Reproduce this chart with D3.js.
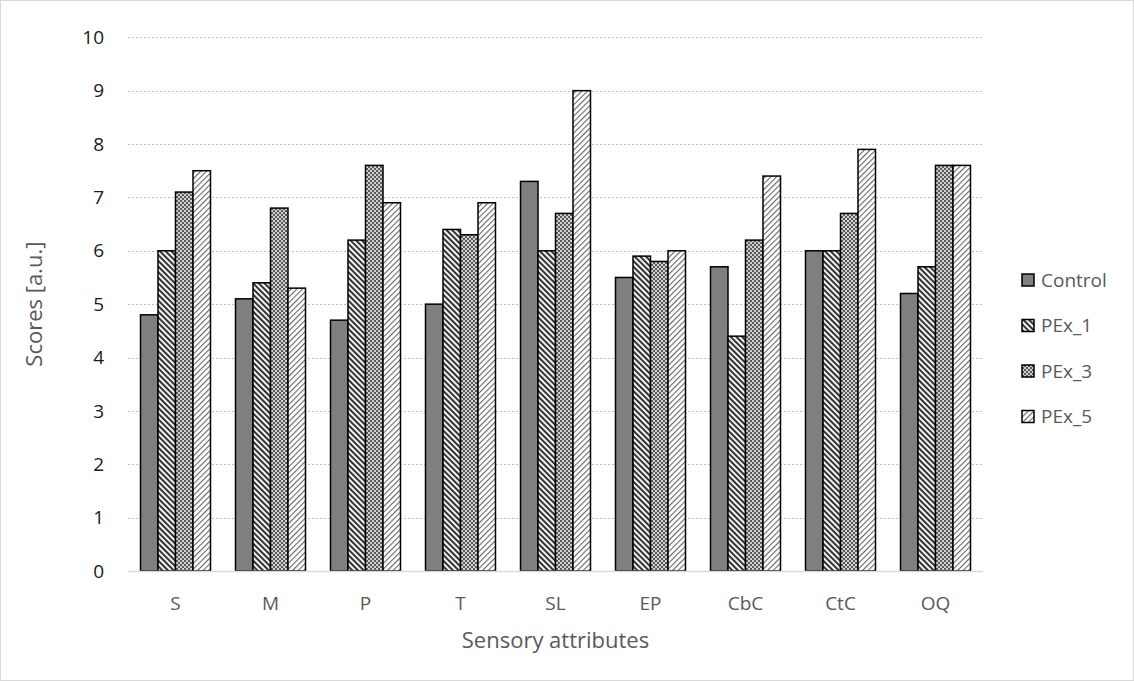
<!DOCTYPE html>
<html><head><meta charset="utf-8">
<script src="https://cdn.jsdelivr.net/npm/d3@7"></script>
<style>body{margin:0;background:#fff;}svg{display:block;font-family:"Open Sans",sans-serif;}</style>
</head><body>
<svg id="c" width="1134" height="681"></svg>
<script>
const categories = ["S","M","P","T","SL","EP","CbC","CtC","OQ"];
const seriesNames = ["Control","PEx_1","PEx_3","PEx_5"];
const control = [4.8,5.1,4.7,5.0,7.3,5.5,5.7,6.0,5.2];
const pex1 = [6.0,5.4,6.2,6.4,6.0,5.9,4.4,6.0,5.7];
const pex3 = [7.1,6.8,7.6,6.3,6.7,5.8,6.2,6.7,7.6];
const pex5 = [7.5,5.3,6.9,6.9,9.0,6.0,7.4,7.9,7.6];
const yTicks = [0,1,2,3,4,5,6,7,8,9,10];

const seriesValues = [control, pex1, pex3, pex5];
const svg = d3.select("#c");
const W = 1134, H = 681;
const m = {left:128, right:151, top:37.3, bottom:110};

svg.append("rect").attr("x",0.5).attr("y",0.5).attr("width",W-1).attr("height",H-1)
  .attr("fill","#fff").attr("stroke","#d9d9d9");

const defs = svg.append("defs");
// PEx_1: wide downward diagonal
const p1 = defs.append("pattern").attr("id","p1").attr("patternUnits","userSpaceOnUse")
  .attr("width",4).attr("height",4).attr("patternTransform","rotate(-45)");
p1.append("rect").attr("width",4).attr("height",4).attr("fill","#f2f2f2");
p1.append("rect").attr("width",1.9).attr("height",4).attr("fill","#2a2a2a");
// PEx_3: small checker
const p3 = defs.append("pattern").attr("id","p3").attr("patternUnits","userSpaceOnUse")
  .attr("width",4).attr("height",4);
p3.append("rect").attr("width",4).attr("height",4).attr("fill","#d0d0d0");
p3.append("rect").attr("width",2).attr("height",2).attr("fill","#5a5a5a");
p3.append("rect").attr("x",2).attr("y",2).attr("width",2).attr("height",2).attr("fill","#5a5a5a");
// PEx_5: light upward diagonal
const p5 = defs.append("pattern").attr("id","p5").attr("patternUnits","userSpaceOnUse")
  .attr("width",4).attr("height",4).attr("patternTransform","rotate(45)");
p5.append("rect").attr("width",4).attr("height",4).attr("fill","#fff");
p5.append("rect").attr("width",1.1).attr("height",4).attr("fill","#666");

const fills = ["#7f7f7f","url(#p1)","url(#p3)","url(#p5)"];

const x = d3.scaleBand().domain(categories).range([m.left, W-m.right]).paddingInner(0).paddingOuter(0);
const bandPad = 0.1316;
const xs = d3.scaleBand().domain(seriesNames)
  .range([x.bandwidth()*bandPad, x.bandwidth()*(1-bandPad)]);
const y = d3.scaleLinear().domain([0,10]).range([H-m.bottom, m.top]);

// grid
svg.append("g").selectAll("line").data(yTicks.filter(d=>d>0)).join("line")
  .attr("x1",m.left).attr("x2",W-m.right)
  .attr("y1",d=>Math.round(y(d))+0.5).attr("y2",d=>Math.round(y(d))+0.5)
  .attr("stroke","#bfbfbf").attr("stroke-width",1).attr("stroke-dasharray","2,2");

// y labels
svg.append("g").selectAll("text").data(yTicks).join("text")
  .attr("x",104).attr("y",d=>y(d)).attr("dy","0.35em").attr("text-anchor","end")
  .attr("font-size",19).attr("fill","#1a1a1a").text(d=>d);

// bars
const groups = svg.append("g").selectAll("g").data(categories).join("g")
  .attr("transform",d=>`translate(${x(d)},0)`);
groups.selectAll("rect").data((c,i)=>seriesNames.map((s,j)=>({s,j,v:seriesValues[j][i]})))
  .join("rect")
  .attr("x",d=>xs(d.s)).attr("width",xs.bandwidth())
  .attr("y",d=>y(d.v)).attr("height",d=>y(0)-y(d.v))
  .attr("fill",d=>fills[d.j]).attr("stroke","#000").attr("stroke-width",1.5);

// baseline
svg.append("line").attr("x1",m.left).attr("x2",W-m.right)
  .attr("y1",y(0)+0.5).attr("y2",y(0)+0.5).attr("stroke","#d9d9d9").attr("stroke-width",1.5);

// x labels
svg.append("g").selectAll("text").data(categories).join("text")
  .attr("x",d=>x(d)+x.bandwidth()/2).attr("y",603).attr("dy","0.35em")
  .attr("text-anchor","middle").attr("font-size",19).attr("fill","#595959").text(d=>d);

// axis titles
svg.append("text").attr("x",(m.left+W-m.right)/2).attr("y",640).attr("dy","0.35em")
  .attr("text-anchor","middle").attr("font-size",22).attr("fill","#595959").text("Sensory attributes");
svg.append("text").attr("transform",`translate(34,${(m.top+H-m.bottom)/2}) rotate(-90)`)
  .attr("dy","0.35em").attr("text-anchor","middle").attr("font-size",22).attr("fill","#595959")
  .text("Scores [a.u.]");

// legend
const lg = svg.append("g").selectAll("g").data(seriesNames).join("g")
  .attr("transform",(d,i)=>`translate(1022,${280+i*45.5})`);
lg.append("rect").attr("x",0).attr("y",-6).attr("width",12).attr("height",12)
  .attr("fill",(d,i)=>fills[i]).attr("stroke","#000").attr("stroke-width",1.5);
lg.append("text").attr("x",19).attr("y",0).attr("dy","0.35em").attr("font-size",19)
  .attr("fill","#595959").text(d=>d);
</script>
</body></html>
